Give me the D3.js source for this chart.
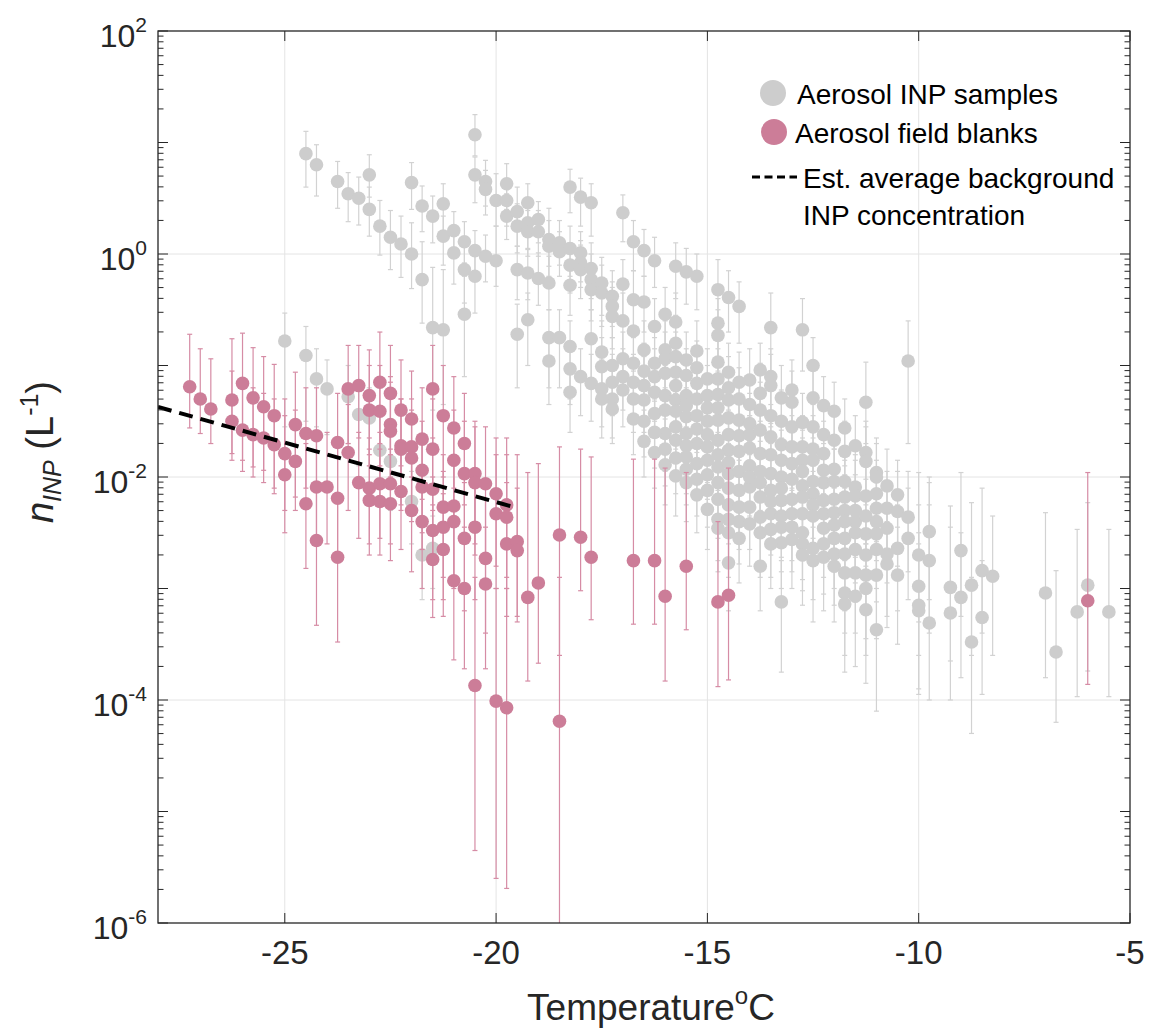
<!DOCTYPE html>
<html>
<head>
<meta charset="utf-8">
<script src="https://cdn.jsdelivr.net/npm/d3@7"></script>
<style>
  body { margin: 0; background: #fff; }
  svg { display: block; }
</style>
</head>
<body>
<div id="chart"></div>
<script>
// values are read off the figure; n is stored as log10(n_INP / L^-1)
// rows: [temperature degC, log10 n, log10 lower bar, log10 upper bar]
const samples = [
  [-25.0, -0.78, -1.55, -0.53], [-24.5, 0.90, 0.60, 1.10], [-24.5, -0.91, -1.50, -0.65],
  [-24.25, 0.80, 0.52, 0.98], [-24.25, -1.12, -1.55, -0.85], [-24.0, -1.21, -1.62, -0.95],
  [-23.75, 0.65, 0.41, 0.83], [-23.5, 0.54, 0.29, 0.73], [-23.5, -1.28, -1.70, -1.00],
  [-23.25, 0.50, 0.26, 0.69], [-23.25, -1.44, -1.90, -1.15], [-23.0, 0.71, 0.51, 0.89],
  [-23.0, 0.40, 0.16, 0.60], [-23.0, -1.47, -1.90, -1.20], [-22.75, 0.25, -0.01, 0.48],
  [-22.75, -1.76, -2.20, -1.45], [-22.5, 0.15, -0.14, 0.39], [-22.5, -1.86, -2.30, -1.55],
  [-22.25, 0.09, -0.21, 0.34], [-22.0, 0.64, 0.40, 0.82], [-22.0, 0.00, -0.31, 0.28],
  [-22.0, -2.22, -2.60, -1.95], [-21.75, 0.43, 0.20, 0.61], [-21.75, -0.23, -0.62, 0.11],
  [-21.75, -2.70, -3.10, -2.40], [-21.5, 0.34, 0.10, 0.52], [-21.5, -0.66, -1.40, -0.12],
  [-21.5, -2.64, -3.00, -2.35], [-21.25, 0.45, 0.20, 0.63], [-21.25, 0.16, -0.10, 0.34],
  [-21.25, -0.68, -1.35, -0.14], [-21.0, 0.21, 0.01, 0.38], [-21.0, 0.01, -0.27, 0.22],
  [-20.75, 0.11, -0.08, 0.29], [-20.75, -0.14, -0.44, 0.13], [-20.75, -0.54, -1.10, -0.20],
  [-20.5, 1.07, 0.88, 1.25], [-20.5, 0.71, 0.46, 0.87], [-20.5, 0.03, -0.23, 0.21],
  [-20.5, -0.20, -0.53, 0.01], [-20.25, 0.65, 0.43, 0.84], [-20.25, 0.58, 0.35, 0.75],
  [-20.25, -0.02, -0.25, 0.17], [-20.0, 0.48, 0.25, 0.72], [-20.0, -0.06, -0.29, 0.25],
  [-19.75, 0.63, 0.40, 0.81], [-19.75, 0.48, 0.25, 0.66], [-19.75, 0.34, 0.13, 0.54],
  [-19.5, 0.38, 0.07, 0.60], [-19.5, 0.25, 0.01, 0.45], [-19.5, -0.14, -0.41, 0.07],
  [-19.5, -0.72, -1.20, -0.45], [-19.25, 0.46, 0.25, 0.63], [-19.25, 0.28, 0.05, 0.47],
  [-19.25, 0.20, -0.02, 0.39], [-19.25, -0.17, -0.41, 0.04], [-19.25, -0.59, -1.00, -0.35],
  [-19.0, 0.31, 0.10, 0.47], [-19.0, 0.20, -0.02, 0.39], [-19.0, -0.22, -0.46, 0.01],
  [-18.75, 0.13, -0.11, 0.41], [-18.75, 0.07, -0.20, 0.30], [-18.75, -0.26, -0.50, -0.02],
  [-18.75, -0.75, -1.20, -0.50], [-18.75, -0.96, -1.35, -0.72], [-18.5, 0.10, -0.10, 0.30],
  [-18.5, 0.02, -0.20, 0.20], [-18.5, -0.75, -1.20, -0.50],
  [-18.25, 0.60, 0.37, 0.76], [-18.0, 0.51, 0.25, 0.68], [-17.75, 0.46, 0.16, 0.63],
  [-17.0, 0.37, 0.11, 0.53], [-18.25, 0.05, -0.20, 0.25], [-18.25, -0.10, -0.35, 0.10],
  [-18.25, -0.28, -0.55, -0.05], [-18.25, -0.83, -1.30, -0.60], [-18.0, 0.01, -0.25, 0.20],
  [-18.0, -0.08, -0.30, 0.12], [-18.0, -0.14, -0.40, 0.08], [-17.75, -0.13, -0.40, 0.10],
  [-17.75, -0.23, -0.50, 0.00], [-17.75, -0.32, -0.60, -0.10], [-17.75, -0.76, -1.20, -0.50],
  [-17.5, -0.26, -0.55, -0.03], [-17.5, -0.35, -0.65, -0.10], [-17.5, -0.88, -1.30, -0.60],
  [-17.25, -0.38, -0.65, -0.15], [-17.25, -0.47, -0.75, -0.25], [-17.25, -0.56, -0.85, -0.30],
  [-17.0, -0.27, -0.55, -0.05], [-17.0, -0.60, -0.90, -0.35], [-16.75, 0.11, -0.15, 0.30],
  [-16.75, -0.41, -0.70, -0.15], [-16.75, -0.69, -1.00, -0.45], [-16.5, 0.03, -0.20, 0.22],
  [-16.5, -0.43, -0.70, -0.20], [-16.5, -0.86, -1.20, -0.60], [-16.25, -0.06, -0.30, 0.15],
  [-16.25, -0.65, -0.95, -0.40], [-16.0, -0.54, -0.85, -0.30], [-16.0, -0.86, -1.20, -0.60],
  [-15.75, -0.11, -0.40, 0.10], [-15.75, -0.61, -0.90, -0.35], [-15.75, -0.80, -1.10, -0.55],
  [-15.5, -0.16, -0.45, 0.05], [-15.25, -0.20, -0.50, 0.00], [-15.25, -0.87, -1.20, -0.60],
  [-14.75, -0.32, -0.60, -0.05], [-14.75, -0.62, -0.95, -0.40], [-14.75, -0.73, -1.05, -0.50],
  [-14.5, -0.39, -0.70, -0.15], [-14.25, -0.47, -0.80, -0.25], [-13.5, -0.66, -1.05, -0.35],
  [-12.75, -0.68, -1.05, -0.40],
  [-18.25, -1.03, -1.35, -0.80], [-18.0, -1.10, -1.45, -0.85], [-17.75, -1.16, -1.50, -0.90],
  [-18.25, -1.24, -1.60, -1.00], [-17.5, -1.01, -1.35, -0.75], [-17.5, -1.21, -1.55, -0.95],
  [-17.25, -1.00, -1.30, -0.75], [-17.25, -1.30, -1.65, -1.05], [-17.25, -1.39, -1.70, -1.15],
  [-17.0, -0.94, -1.25, -0.70], [-17.0, -1.10, -1.40, -0.85], [-16.75, -0.98, -1.30, -0.75],
  [-16.75, -1.15, -1.45, -0.90], [-16.75, -1.30, -1.60, -1.05], [-16.75, -1.48, -1.80, -1.20],
  [-16.5, -1.31, -1.60, -1.05], [-16.5, -1.68, -2.00, -1.40], [-16.25, -0.98, -1.30, -0.75],
  [-16.25, -1.10, -1.40, -0.85], [-16.25, -1.24, -1.55, -1.00], [-16.25, -1.43, -1.75, -1.15],
  [-16.25, -1.78, -2.10, -1.50], [-16.0, -0.94, -1.25, -0.70], [-16.0, -1.07, -1.40, -0.85],
  [-16.0, -1.27, -1.60, -1.00], [-16.0, -1.61, -1.95, -1.35], [-16.0, -1.89, -2.25, -1.60],
  [-15.75, -0.92, -1.25, -0.70], [-15.75, -1.06, -1.40, -0.80], [-15.75, -1.31, -1.60, -1.05],
  [-15.75, -1.41, -1.75, -1.15], [-15.75, -1.67, -2.00, -1.40], [-15.75, -1.99, -2.35, -1.70],
  [-15.5, -1.09, -1.40, -0.85], [-15.5, -1.27, -1.60, -1.00], [-15.5, -1.46, -1.80, -1.20],
  [-15.5, -1.61, -1.95, -1.35], [-15.5, -1.82, -2.15, -1.55], [-15.5, -2.05, -2.40, -1.75],
  [-15.25, -1.16, -1.50, -0.90], [-15.25, -1.30, -1.60, -1.05], [-15.25, -1.70, -2.05, -1.45],
  [-15.25, -1.88, -2.20, -1.60], [-15.25, -2.16, -2.50, -1.85], [-15.0, -1.27, -1.60, -1.00],
  [-15.0, -1.50, -1.85, -1.25], [-15.0, -1.73, -2.05, -1.45], [-15.0, -1.85, -2.20, -1.60],
  [-15.0, -2.29, -2.65, -2.00], [-14.75, -0.97, -1.30, -0.70], [-14.75, -1.26, -1.60, -1.00],
  [-14.75, -1.49, -1.80, -1.25], [-14.75, -1.67, -2.00, -1.40], [-14.75, -1.91, -2.25, -1.65],
  [-14.75, -2.38, -2.75, -2.10], [-14.75, -2.46, -2.85, -2.15], [-14.5, -1.06, -1.40, -0.80],
  [-14.5, -1.31, -1.65, -1.05], [-14.5, -1.47, -1.80, -1.20], [-14.5, -1.76, -2.10, -1.50],
  [-14.5, -1.97, -2.30, -1.70], [-14.5, -2.25, -2.60, -1.95], [-14.5, -2.50, -2.90, -2.20],
  [-14.5, -2.77, -3.20, -2.45], [-14.25, -1.49, -1.80, -1.25], [-14.25, -1.77, -2.10, -1.50],
  [-14.25, -2.12, -2.45, -1.85], [-14.25, -2.27, -2.65, -2.00], [-14.0, -1.13, -1.45, -0.85],
  [-14.0, -1.52, -1.85, -1.25], [-14.0, -1.74, -2.05, -1.45], [-14.0, -2.09, -2.45, -1.80],
  [-14.0, -2.27, -2.65, -2.00], [-13.75, -1.04, -1.40, -0.80], [-13.75, -1.40, -1.75, -1.15],
  [-13.75, -1.79, -2.15, -1.50], [-13.75, -2.18, -2.55, -1.90], [-13.75, -2.36, -2.75, -2.05],
  [-13.75, -2.80, -3.20, -2.50], [-13.5, -1.10, -1.45, -0.85], [-13.5, -1.18, -1.55, -0.90],
  [-13.5, -1.64, -2.00, -1.35], [-13.5, -1.97, -2.35, -1.70], [-13.5, -2.33, -2.70, -2.00],
  [-13.5, -2.47, -2.90, -2.15], [-13.25, -1.29, -1.65, -1.00], [-13.25, -1.71, -2.05, -1.45],
  [-13.25, -2.00, -2.40, -1.70], [-13.25, -2.21, -2.60, -1.90], [-13.25, -2.59, -3.00, -2.25],
  [-13.25, -3.12, -3.75, -2.75],
  [-17.5, -1.30, -1.65, -1.05], [-17.25, -1.15, -1.45, -0.90], [-17.0, -1.22, -1.55, -0.95],
  [-16.5, -1.05, -1.35, -0.80], [-16.5, -1.18, -1.50, -0.92], [-16.5, -1.50, -1.82, -1.22],
  [-16.25, -1.60, -1.92, -1.32], [-16.0, -1.40, -1.72, -1.12], [-16.0, -1.75, -2.08, -1.48],
  [-15.75, -1.18, -1.50, -0.92], [-15.75, -1.55, -1.88, -1.28], [-15.75, -1.83, -2.15, -1.55],
  [-15.5, -0.95, -1.28, -0.70], [-15.5, -1.36, -1.68, -1.10], [-15.5, -1.72, -2.05, -1.45],
  [-15.5, -1.93, -2.25, -1.65], [-15.25, -1.02, -1.35, -0.78], [-15.25, -1.45, -1.78, -1.18],
  [-15.25, -1.57, -1.90, -1.30], [-15.25, -2.02, -2.35, -1.75], [-15.0, -1.12, -1.45, -0.85],
  [-15.0, -1.38, -1.70, -1.12], [-15.0, -1.62, -1.95, -1.35], [-15.0, -1.98, -2.30, -1.70],
  [-15.0, -2.12, -2.45, -1.85], [-14.75, -1.12, -1.45, -0.85], [-14.75, -1.38, -1.70, -1.12],
  [-14.75, -1.80, -2.12, -1.52], [-14.75, -2.05, -2.40, -1.78], [-14.75, -2.20, -2.55, -1.92],
  [-14.5, -1.20, -1.52, -0.92], [-14.5, -1.62, -1.95, -1.35], [-14.5, -1.87, -2.20, -1.60],
  [-14.5, -2.10, -2.45, -1.82], [-14.5, -2.38, -2.75, -2.08], [-14.25, -1.15, -1.48, -0.88],
  [-14.25, -1.30, -1.62, -1.02], [-14.25, -1.63, -1.95, -1.35], [-14.25, -1.95, -2.30, -1.68],
  [-14.25, -2.40, -2.78, -2.10], [-14.25, -2.55, -2.95, -2.22], [-14.0, -1.35, -1.68, -1.08],
  [-14.0, -1.62, -1.95, -1.35], [-14.0, -1.90, -2.25, -1.62], [-14.0, -2.00, -2.35, -1.72],
  [-14.0, -2.42, -2.80, -2.12], [-13.75, -1.25, -1.58, -0.98], [-13.75, -1.58, -1.92, -1.30],
  [-13.75, -1.95, -2.30, -1.68], [-13.75, -2.05, -2.40, -1.78], [-13.75, -2.50, -2.90, -2.18],
  [-13.5, -1.45, -1.78, -1.18], [-13.5, -1.80, -2.15, -1.52], [-13.5, -2.12, -2.48, -1.85],
  [-13.5, -2.22, -2.58, -1.92], [-13.5, -2.60, -3.00, -2.28], [-13.25, -1.50, -1.85, -1.22],
  [-13.25, -1.85, -2.20, -1.58], [-13.25, -2.10, -2.48, -1.82], [-13.25, -2.35, -2.72, -2.05],
  [-13.25, -2.45, -2.85, -2.12], [-13.0, -1.55, -1.90, -1.28], [-13.0, -1.88, -2.25, -1.60],
  [-13.0, -2.45, -2.85, -2.12], [-12.75, -1.85, -2.22, -1.58], [-12.75, -2.08, -2.45, -1.80],
  [-12.75, -2.50, -2.92, -2.18], [-12.75, -2.60, -3.02, -2.28], [-12.5, -2.15, -2.55, -1.85],
  [-12.25, -2.05, -2.45, -1.75], [-12.25, -2.33, -2.75, -2.02], [-12.25, -2.60, -3.05, -2.25],
  [-12.0, -2.32, -2.72, -2.00], [-12.0, -2.55, -3.00, -2.20], [-11.75, -2.30, -2.72, -1.98],
  [-11.75, -2.55, -3.00, -2.20], [-11.5, -2.30, -2.72, -1.98], [-11.5, -2.40, -2.85, -2.05],
  [-11.5, -2.65, -3.12, -2.30], [-11.25, -2.35, -2.80, -2.02], [-11.25, -2.70, -3.20, -2.32],
  [-11.0, -2.15, -2.58, -1.85], [-11.0, -2.40, -2.85, -2.05], [-11.0, -2.65, -3.12, -2.28],
  [-13.0, -1.22, -1.55, -0.95], [-13.0, -1.33, -1.70, -1.05], [-13.0, -1.73, -2.10, -1.45],
  [-13.0, -2.02, -2.40, -1.75], [-13.0, -2.20, -2.60, -1.90], [-13.0, -2.33, -2.75, -2.00],
  [-13.0, -2.56, -3.00, -2.20], [-12.75, -1.51, -1.85, -1.25], [-12.75, -1.73, -2.10, -1.45],
  [-12.75, -1.95, -2.35, -1.65], [-12.75, -2.18, -2.60, -1.90], [-12.75, -2.33, -2.75, -2.00],
  [-12.75, -2.70, -3.15, -2.35], [-12.5, -1.00, -1.35, -0.75], [-12.5, -1.29, -1.65, -1.00],
  [-12.5, -1.55, -1.90, -1.25], [-12.5, -1.75, -2.10, -1.45], [-12.5, -1.85, -2.20, -1.55],
  [-12.5, -2.04, -2.45, -1.75], [-12.5, -2.25, -2.65, -1.95], [-12.5, -2.35, -2.80, -2.05],
  [-12.5, -2.64, -3.10, -2.30], [-12.5, -2.75, -3.30, -2.40], [-12.25, -1.36, -1.70, -1.10],
  [-12.25, -1.62, -1.95, -1.35], [-12.25, -1.79, -2.15, -1.50], [-12.25, -1.94, -2.30, -1.65],
  [-12.25, -2.21, -2.60, -1.90], [-12.25, -2.46, -2.90, -2.10], [-12.25, -2.72, -3.20, -2.35],
  [-12.0, -1.41, -1.75, -1.15], [-12.0, -1.67, -2.00, -1.40], [-12.0, -1.93, -2.30, -1.65],
  [-12.0, -2.04, -2.45, -1.75], [-12.0, -2.20, -2.60, -1.90], [-12.0, -2.43, -2.85, -2.10],
  [-12.0, -2.69, -3.15, -2.35], [-12.0, -2.80, -3.30, -2.45], [-11.75, -1.56, -1.90, -1.30],
  [-11.75, -1.77, -2.10, -1.50], [-11.75, -2.04, -2.45, -1.75], [-11.75, -2.18, -2.60, -1.85],
  [-11.75, -2.40, -2.85, -2.05], [-11.75, -2.69, -3.20, -2.35], [-11.75, -2.86, -3.40, -2.50],
  [-11.75, -3.04, -3.60, -2.65], [-11.75, -3.14, -3.75, -2.75], [-11.5, -1.72, -2.05, -1.45],
  [-11.5, -2.09, -2.50, -1.80], [-11.5, -2.17, -2.60, -1.85], [-11.5, -2.50, -2.95, -2.15],
  [-11.5, -2.86, -3.40, -2.50], [-11.5, -3.07, -3.70, -2.70], [-11.25, -1.33, -1.70, -0.97],
  [-11.25, -1.78, -2.15, -1.50], [-11.25, -1.86, -2.25, -1.55], [-11.25, -2.17, -2.60, -1.85],
  [-11.25, -2.51, -3.00, -2.15], [-11.25, -2.88, -3.45, -2.50], [-11.25, -3.00, -3.60, -2.60],
  [-11.25, -3.19, -3.85, -2.75], [-11.0, -1.96, -2.35, -1.65], [-11.0, -2.00, -2.40, -1.70],
  [-11.0, -2.28, -2.75, -1.95], [-11.0, -2.51, -3.00, -2.15], [-11.0, -2.88, -3.45, -2.50],
  [-11.0, -3.37, -4.10, -2.90], [-10.75, -2.08, -2.50, -1.75], [-10.75, -2.28, -2.75, -1.95],
  [-10.75, -2.46, -2.95, -2.10], [-10.75, -2.69, -3.25, -2.30], [-10.75, -2.78, -3.35, -2.40],
  [-10.5, -2.16, -2.60, -1.85], [-10.5, -2.31, -2.80, -1.95], [-10.5, -2.64, -3.20, -2.25],
  [-10.5, -2.88, -3.50, -2.45], [-10.25, -0.96, -1.70, -0.60], [-10.25, -2.36, -2.85, -1.95],
  [-10.25, -2.55, -3.10, -2.10], [-10.0, -2.70, -3.30, -2.25], [-10.0, -2.98, -3.60, -2.50],
  [-10.0, -3.15, -3.90, -2.60], [-10.0, -3.20, -3.95, -1.96], [-9.75, -2.49, -3.10, -2.00],
  [-9.75, -2.75, -3.40, -2.25], [-9.75, -3.31, -4.00, -2.05], [-9.25, -2.99, -3.65, -2.26],
  [-9.25, -3.22, -4.00, -2.45], [-9.0, -2.66, -3.25, -1.96], [-9.0, -3.08, -3.80, -2.50],
  [-8.75, -2.97, -3.60, -2.23], [-8.75, -3.48, -4.30, -2.90], [-8.5, -2.84, -3.40, -2.10],
  [-8.5, -3.26, -3.95, -2.75], [-8.25, -2.89, -3.60, -2.35], [-7.0, -3.04, -3.80, -2.32],
  [-6.75, -3.57, -4.20, -2.84], [-6.25, -3.21, -3.97, -2.47], [-6.0, -2.97, -3.74, -2.23],
  [-5.5, -3.21, -3.97, -2.47]
];

const blanks = [
  [-27.25, -1.19, -1.56, -0.72], [-27.0, -1.30, -1.61, -0.85], [-26.75, -1.39, -1.70, -0.94],
  [-26.25, -1.31, -1.79, -0.76], [-26.25, -1.50, -1.85, -1.05], [-26.0, -1.16, -1.85, -0.71],
  [-26.0, -1.58, -1.95, -1.15], [-25.75, -1.29, -1.91, -0.84], [-25.75, -1.62, -2.00, -1.20],
  [-25.5, -1.37, -1.94, -0.92], [-25.5, -1.65, -2.05, -1.25], [-25.25, -1.45, -2.10, -0.99],
  [-25.25, -1.71, -2.15, -1.30], [-25.0, -1.79, -2.30, -1.30], [-25.0, -1.98, -2.50, -1.45],
  [-24.75, -1.53, -2.18, -1.06], [-24.75, -1.86, -2.30, -1.40], [-24.5, -1.61, -2.10, -1.20],
  [-24.5, -2.24, -2.82, -1.70], [-24.25, -1.63, -2.10, -1.20], [-24.25, -2.09, -2.60, -1.60],
  [-24.25, -2.57, -3.33, -2.10], [-24.0, -2.09, -2.60, -1.60], [-23.75, -1.69, -2.20, -1.25],
  [-23.75, -2.19, -2.70, -1.70], [-23.75, -2.72, -3.48, -2.20], [-23.5, -1.21, -1.70, -0.82],
  [-23.5, -1.78, -2.30, -1.35], [-23.25, -1.18, -1.65, -0.82], [-23.25, -2.05, -2.55, -1.60],
  [-23.0, -1.27, -1.80, -0.86], [-23.0, -1.40, -1.90, -1.00], [-23.0, -2.10, -2.60, -1.65],
  [-23.0, -2.21, -2.70, -1.75], [-22.75, -1.15, -1.70, -0.70], [-22.75, -1.41, -1.90, -1.00],
  [-22.75, -2.06, -2.55, -1.60], [-22.75, -2.22, -2.70, -1.75], [-22.5, -1.25, -1.75, -0.82],
  [-22.5, -1.53, -2.00, -1.10], [-22.5, -1.59, -2.10, -1.15], [-22.5, -2.06, -2.60, -1.60],
  [-22.5, -2.24, -2.75, -1.80], [-22.25, -1.40, -1.90, -0.95], [-22.25, -1.72, -2.25, -1.30],
  [-22.25, -1.75, -2.30, -1.30], [-22.25, -2.13, -2.65, -1.70], [-22.0, -1.48, -2.00, -1.05],
  [-22.0, -1.73, -2.25, -1.30], [-22.0, -1.83, -2.40, -1.40], [-22.0, -2.30, -2.85, -1.85],
  [-21.75, -1.66, -2.20, -1.20], [-21.75, -1.94, -2.50, -1.50], [-21.75, -2.09, -2.65, -1.65],
  [-21.75, -2.40, -3.00, -1.95], [-21.5, -1.21, -1.75, -0.82], [-21.5, -1.75, -2.30, -1.30],
  [-21.5, -2.11, -2.70, -1.65], [-21.5, -2.48, -3.10, -2.00], [-21.5, -2.74, -3.26, -2.25],
  [-21.25, -1.45, -2.00, -1.00], [-21.25, -2.27, -2.90, -1.80], [-21.25, -2.45, -3.10, -1.95],
  [-21.25, -2.65, -3.25, -2.15], [-21.0, -1.56, -2.10, -1.10], [-21.0, -1.85, -2.40, -1.40],
  [-21.0, -2.26, -2.90, -1.80], [-21.0, -2.40, -3.00, -1.90], [-21.0, -2.93, -3.64, -2.40],
  [-20.75, -1.70, -2.25, -1.25], [-20.75, -1.97, -2.55, -1.50], [-20.75, -2.55, -3.20, -2.05],
  [-20.75, -3.00, -3.72, -2.45], [-20.5, -1.97, -2.60, -1.50], [-20.5, -2.05, -2.70, -1.55],
  [-20.5, -2.45, -3.10, -1.95], [-20.5, -3.87, -5.35, -2.90], [-20.25, -2.06, -2.70, -1.55],
  [-20.25, -2.73, -3.40, -2.20], [-20.25, -2.96, -3.72, -2.45], [-20.0, -2.15, -2.80, -1.65],
  [-20.0, -2.33, -3.00, -1.80], [-20.0, -4.01, -5.60, -3.00], [-19.75, -2.25, -2.90, -1.65],
  [-19.75, -2.36, -3.00, -1.80], [-19.75, -2.60, -3.25, -2.05], [-19.75, -4.07, -5.69, -3.00],
  [-19.5, -2.58, -3.25, -1.80], [-19.5, -2.66, -3.30, -2.10], [-19.25, -3.08, -3.83, -1.96],
  [-19.0, -2.95, -3.67, -1.88], [-18.5, -2.52, -3.60, -1.73], [-18.5, -4.19, -6.50, -2.90],
  [-18.0, -2.54, -3.02, -1.75], [-17.75, -2.72, -3.28, -1.82], [-16.75, -2.75, -3.32, -1.84],
  [-16.25, -2.75, -3.32, -1.84], [-16.0, -3.07, -3.83, -1.92], [-15.5, -2.80, -3.37, -1.96],
  [-14.75, -3.12, -3.88, -2.40], [-14.5, -3.06, -3.82, -1.92], [-6.0, -3.11, -3.86, -1.96]
];

// estimated average background line, end points [degC, n]
const background = [[-28, 0.0425], [-19.5, 0.00527]];

const xTicks = [-25, -20, -15, -10, -5];
const yLabelExps = [2, 0, -2, -4, -6];
const legendItems = ["Aerosol INP samples", "Aerosol field blanks"];

const W = 1150, H = 1030;
const pL = 158, pR = 1130, pT = 31, pB = 923;
const axisColor = "#262626";
const grey = "#cdcdcd";
const pink = "#cc7d98";

const svg = d3.select("#chart").append("svg")
  .attr("width", W).attr("height", H)
  .style("font-family", "'Liberation Sans', Arial, sans-serif");

const x = d3.scaleLinear().domain([-28, -5]).range([pL, pR]);
const y = d3.scaleLog().domain([1e-6, 1e2]).range([pB, pT]);

// grid
const grid = svg.append("g").attr("stroke", "#e4e4e4").attr("stroke-width", 1);
grid.selectAll("line.gx").data(xTicks.slice(0, -1)).enter().append("line")
  .attr("x1", d => x(d)).attr("x2", d => x(d)).attr("y1", pT).attr("y2", pB);
grid.selectAll("line.gy").data([0, -2, -4]).enter().append("line")
  .attr("x1", pL).attr("x2", pR)
  .attr("y1", d => y(Math.pow(10, d))).attr("y2", d => y(Math.pow(10, d)));

svg.append("clipPath").attr("id", "clip").append("rect")
  .attr("x", pL).attr("y", pT).attr("width", pR - pL).attr("height", pB - pT);

const plot = svg.append("g").attr("clip-path", "url(#clip)");

// error bars + markers for one series
function drawSeries(data, barColor, markerColor) {
  const bars = plot.append("g").attr("stroke", barColor).attr("stroke-width", 1.2);
  data.forEach(d => {
    const cx = x(d[0]);
    const y0 = y(Math.pow(10, d[2]));
    const y1 = y(Math.pow(10, d[3]));
    bars.append("line").attr("x1", cx).attr("x2", cx).attr("y1", y0).attr("y2", y1);
    bars.append("line").attr("x1", cx - 2.5).attr("x2", cx + 2.5).attr("y1", y0).attr("y2", y0);
    bars.append("line").attr("x1", cx - 2.5).attr("x2", cx + 2.5).attr("y1", y1).attr("y2", y1);
  });
  plot.append("g").selectAll("circle").data(data).enter().append("circle")
    .attr("cx", d => x(d[0]))
    .attr("cy", d => y(Math.pow(10, d[1])))
    .attr("r", 6.8)
    .attr("fill", markerColor);
}

drawSeries(samples, "#d2d2d2", grey);
drawSeries(blanks, "#d68ca5", pink);

// background line
plot.append("path")
  .datum(background)
  .attr("d", d3.line().x(d => x(d[0])).y(d => y(d[1])))
  .attr("fill", "none")
  .attr("stroke", "#000")
  .attr("stroke-width", 4)
  .attr("stroke-dasharray", "14,8");

// axes box
const axes = svg.append("g").attr("stroke", axisColor).attr("fill", "none");
axes.append("rect").attr("x", pL).attr("y", pT)
  .attr("width", pR - pL).attr("height", pB - pT).attr("stroke-width", 1.3);

// x ticks (bottom and top, pointing inward)
xTicks.forEach(t => {
  axes.append("line").attr("x1", x(t)).attr("x2", x(t)).attr("y1", pB).attr("y2", pB - 10);
  axes.append("line").attr("x1", x(t)).attr("x2", x(t)).attr("y1", pT).attr("y2", pT + 10);
});

// y ticks: majors every decade, minors 2..9
const yMajor = d3.range(-6, 3).map(e => Math.pow(10, e));
const yMinor = [];
d3.range(-6, 2).forEach(e => { for (let m = 2; m <= 9; m++) yMinor.push(m * Math.pow(10, e)); });
yMajor.forEach(v => {
  axes.append("line").attr("x1", pL).attr("x2", pL + 10).attr("y1", y(v)).attr("y2", y(v));
  axes.append("line").attr("x1", pR).attr("x2", pR - 10).attr("y1", y(v)).attr("y2", y(v));
});
yMinor.forEach(v => {
  axes.append("line").attr("x1", pL).attr("x2", pL + 5.5).attr("y1", y(v)).attr("y2", y(v));
  axes.append("line").attr("x1", pR).attr("x2", pR - 5.5).attr("y1", y(v)).attr("y2", y(v));
});

// tick labels
svg.append("g").selectAll("text").data(xTicks).enter().append("text")
  .attr("x", d => x(d)).attr("y", 964)
  .attr("text-anchor", "middle")
  .attr("font-size", 33).attr("fill", axisColor)
  .text(d => d);

yLabelExps.forEach(e => {
  const ty = y(Math.pow(10, e));
  const t = svg.append("text")
    .attr("x", 147).attr("y", ty + 16)
    .attr("text-anchor", "end").attr("fill", axisColor);
  t.append("tspan").attr("font-size", 32).text("10");
  t.append("tspan").attr("font-size", 21).attr("dy", -15).text(e);
});

// x label
const xl = svg.append("text")
  .attr("x", 651).attr("y", 1020)
  .attr("text-anchor", "middle").attr("fill", axisColor).attr("font-size", 37);
xl.append("tspan").text("Temperature");
xl.append("tspan").attr("font-size", 24).attr("dy", -16).text("o");
xl.append("tspan").attr("dy", 16).text("C");

// y label
const yl = svg.append("text")
  .attr("transform", "translate(53,452) rotate(-90)")
  .attr("text-anchor", "middle").attr("fill", axisColor).attr("font-size", 38);
yl.append("tspan").attr("font-style", "italic").text("n");
yl.append("tspan").attr("font-style", "italic").attr("font-size", 25).attr("dy", 8).text("INP");
yl.append("tspan").attr("dy", -8).text(" (L");
yl.append("tspan").attr("font-size", 25).attr("dy", -15).text("-1");
yl.append("tspan").attr("dy", 15).text(")");

// legend
const legend = svg.append("g").attr("font-size", 28).attr("fill", "#000");
legend.append("circle").attr("cx", 773).attr("cy", 93).attr("r", 13).attr("fill", grey);
legend.append("circle").attr("cx", 774).attr("cy", 132).attr("r", 13).attr("fill", pink);
legend.append("text").attr("x", 797).attr("y", 104).text(legendItems[0]);
legend.append("text").attr("x", 795).attr("y", 143).text(legendItems[1]);
legend.append("line")
  .attr("x1", 752).attr("x2", 797).attr("y1", 177).attr("y2", 177)
  .attr("stroke", "#000").attr("stroke-width", 3).attr("stroke-dasharray", "8,4.5");
legend.append("text").attr("x", 803).attr("y", 188).text("Est. average background");
legend.append("text").attr("x", 803).attr("y", 225).text("INP concentration");
</script>
</body>
</html>
